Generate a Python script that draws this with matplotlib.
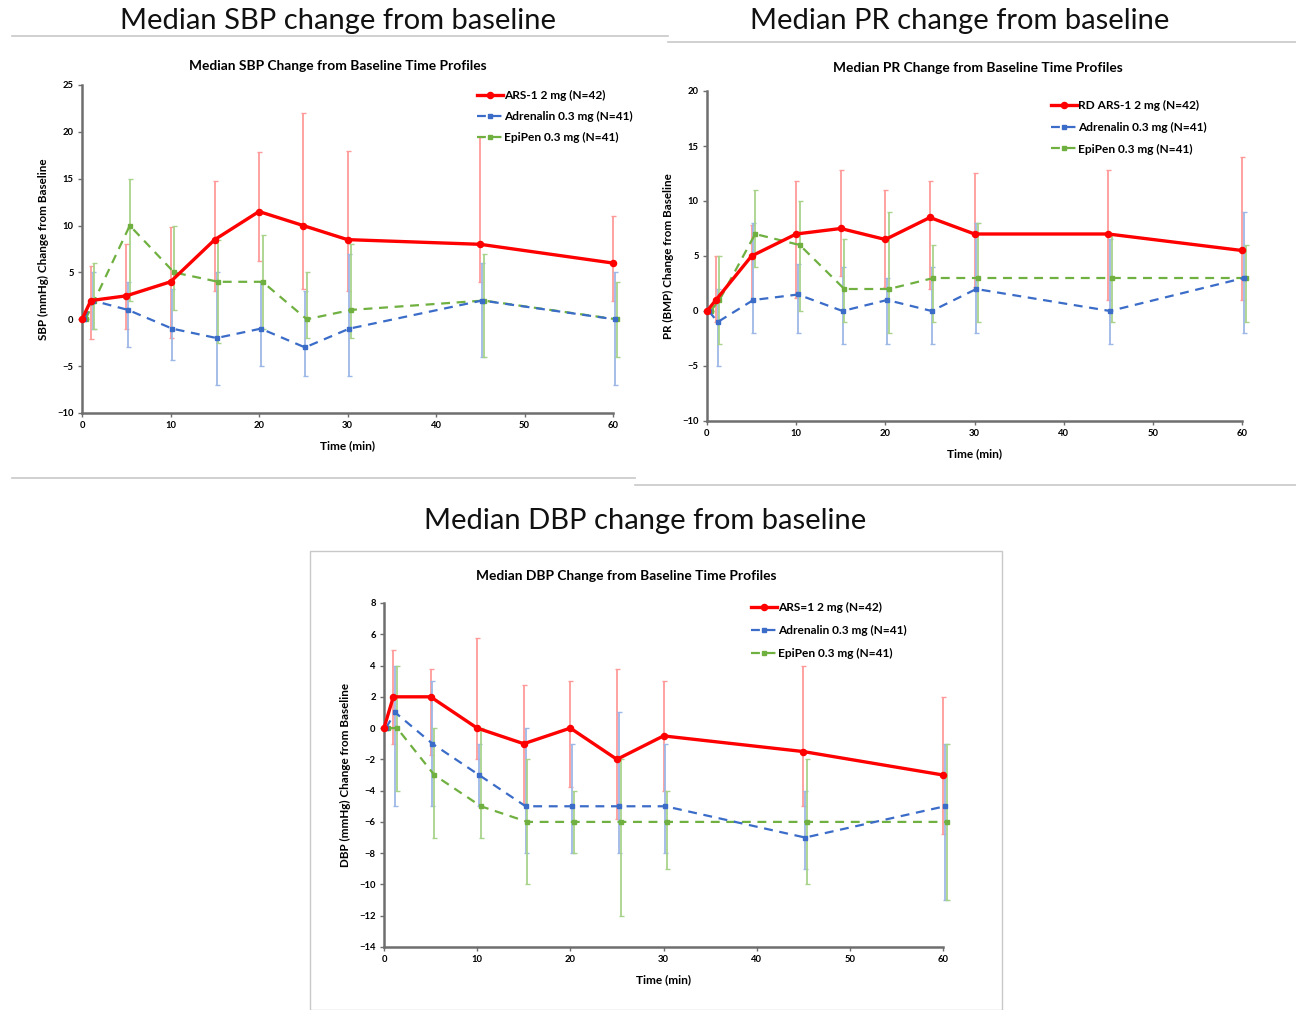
import matplotlib
matplotlib.use("Agg")
import matplotlib.pyplot as plt
from matplotlib.lines import Line2D
from matplotlib.patches import Rectangle
import numpy as np

# ---------------- data ----------------
times = [0, 1, 5, 10, 15, 20, 25, 30, 45, 60]

# SBP
sbp_ars = [0, 2, 2.5, 4, 8.5, 11.5, 10, 8.5, 8, 6]
sbp_ars_hi = [0, 5.7, 8, 9.8, 14.8, 17.8, 22, 18, 19.4, 11]
sbp_ars_lo = [0, -2.1, -1, -2, 3, 6.2, 3.2, 3, 4, 2]
sbp_adr = [0, 2, 1, -1, -2, -1, -3, -1, 2, 0]
sbp_adr_hi = [0, 5, 4, 3.2, 5, 4, 3, 7, 6, 5]
sbp_adr_lo = [0, -1, -3, -4.3, -7, -5, -6, -6, -4, -7]
sbp_epi = [0, 2, 10, 5, 4, 4, 0, 1, 2, 0]
sbp_epi_hi = [0, 6, 15, 10, 8.5, 9, 5, 8, 7, 4]
sbp_epi_lo = [0, -1, 2, 1, -2.5, -1, -2, -2, -4, -4]

# PR
pr_ars = [0, 1, 5, 7, 7.5, 6.5, 8.5, 7, 7, 5.5]
pr_ars_hi = [0, 5, 7.8, 11.8, 12.8, 11, 11.8, 12.5, 12.8, 14]
pr_ars_lo = [0, -1, 1, 1.2, 3.2, 2.2, 2, 2.2, 1, 1]
pr_adr = [0, -1, 1, 1.5, 0, 1, 0, 2, 0, 3]
pr_adr_hi = [0, 2, 8, 4.3, 4, 3, 4, 8, 6.5, 9]
pr_adr_lo = [0, -5, -2, -2, -3, -3, -3, -2, -3, -2]
pr_epi = [0, 1, 7, 6, 2, 2, 3, 3, 3, 3]
pr_epi_hi = [0, 5, 11, 10, 6.5, 9, 6, 8, 7, 6]
pr_epi_lo = [0, -3, 4, 0, -1, -2, -1, -1, -1, -1]

# DBP
dbp_ars = [0, 2, 2, 0, -1, 0, -2, -0.5, -1.5, -3]
dbp_ars_hi = [0, 5, 3.75, 5.75, 2.75, 3, 3.75, 3, 4, 2]
dbp_ars_lo = [0, -1, -1.75, -2, -4.8, -3.75, -5.8, -4, -5, -6.75]
dbp_adr = [0, 1, -1, -3, -5, -5, -5, -5, -7, -5]
dbp_adr_hi = [0, 4, 3, -1, 0, -1, 1, -1, -4, -1]
dbp_adr_lo = [0, -5, -5, -5, -8, -8, -8, -8, -9, -11]
dbp_epi = [0, 0, -3, -5, -6, -6, -6, -6, -6, -6]
dbp_epi_hi = [0, 4, 0, 0, -2, -4, -2, -4, -2, -1]
dbp_epi_lo = [0, -4, -7, -7, -10, -8, -12, -9, -10, -11]

sbp_labels = ["ARS-1 2 mg (N=42)", "Adrenalin 0.3 mg (N=41)", "EpiPen 0.3 mg (N=41)"]
pr_labels = ["RD ARS-1 2 mg (N=42)", "Adrenalin 0.3 mg (N=41)", "EpiPen 0.3 mg (N=41)"]
dbp_labels = ["ARS=1 2 mg (N=42)", "Adrenalin 0.3 mg (N=41)", "EpiPen 0.3 mg (N=41)"]

# ---------------- style ----------------
W, H = 1296, 1010
fig = plt.figure(figsize=(W / 100, H / 100), dpi=100)
fig.patch.set_facecolor("white")

FONT = "Lato"
RED, RED_E = "#FF0000", "#FF9A9A"
BLUE, BLUE_E = "#3A6CC8", "#9DB8E6"
GREEN, GREEN_E = "#6FB040", "#A8D38A"


def fx(px):
    return px / W


def fy(py):
    return 1 - py / H


def axes_px(x0, x1, ytop, ybot):
    return fig.add_axes([fx(x0), fy(ybot), fx(x1) - fx(x0), fy(ytop) - fy(ybot)])


def draw_panel(ax, series, labels, ylim, ystep, ylabel, title, title_xy, leg_xy, leg_sp):
    offsets = [0.0, 0.2, 0.4]
    styles = [
        dict(color=RED, ecolor=RED_E, ls="-", lw=2.4, marker="o", ms=4.4),
        dict(color=BLUE, ecolor=BLUE_E, ls=(0, (4, 3)), lw=1.6, marker="s", ms=2.6),
        dict(color=GREEN, ecolor=GREEN_E, ls=(0, (4, 3)), lw=1.6, marker="s", ms=2.6),
    ]
    order = [2, 1, 0]
    for i in order:
        y, hi, lo = series[i]
        st = styles[i]
        x = np.array(times, dtype=float) + offsets[i]
        y = np.array(y, dtype=float)
        yerr = np.vstack([y - np.array(lo), np.array(hi) - y])
        ax.errorbar(x, y, yerr=yerr, fmt="none", ecolor=st["ecolor"], elinewidth=1.3,
                    capsize=1.8, capthick=1.0, clip_on=False, zorder=2 + i)
    for i in order:
        y, hi, lo = series[i]
        st = styles[i]
        x = np.array(times, dtype=float) + offsets[i]
        ax.plot(x, y, color=st["color"], ls=st["ls"], lw=st["lw"], marker=st["marker"],
                ms=st["ms"], clip_on=False, zorder=6 + (3 if i == 0 else 0))
    handles = []
    for i in range(3):
        st = styles[i]
        handles.append(Line2D([], [], color=st["color"], ls=st["ls"], lw=st["lw"],
                              marker=st["marker"], ms=st["ms"]))
    ax.set_xlim(0, 60)
    ax.set_ylim(*ylim)
    ax.set_xticks(np.arange(0, 61, 10))
    ax.set_yticks(np.arange(ylim[0], ylim[1] + 0.01, ystep))
    for s in ["top", "right"]:
        ax.spines[s].set_visible(False)
    for s in ["left", "bottom"]:
        ax.spines[s].set_color("#6E6E6E")
        ax.spines[s].set_linewidth(1.8)
    ax.tick_params(axis="both", direction="out", length=3, width=1, color="#6E6E6E",
                   labelsize=6.8, pad=3)
    for lab in ax.get_xticklabels() + ax.get_yticklabels():
        lab.set_fontweight("bold")
        lab.set_fontfamily(FONT)
    ax.set_xlabel("Time (min)", fontsize=8.6, fontweight="bold", family=FONT, labelpad=7)
    ax.set_ylabel(ylabel, fontsize=8.4, fontweight="bold", family=FONT, labelpad=6)
    fig.text(fx(title_xy[0]), fy(title_xy[1]), title, ha="center", va="center",
             fontsize=9.9, fontweight="bold", family=FONT)
    ax.set_facecolor("white")
    ax.legend(handles, labels, loc="upper left",
              bbox_to_anchor=(fx(leg_xy[0]), fy(leg_xy[1])),
              bbox_transform=fig.transFigure, frameon=False,
              prop=dict(family=FONT, weight="bold", size=8.6),
              handlelength=2.2, handletextpad=0.1, labelspacing=leg_sp,
              borderpad=0, borderaxespad=0)
    return ax


# SBP panel
ax1 = axes_px(82, 613, 85, 413)
draw_panel(ax1,
           [(sbp_ars, sbp_ars_hi, sbp_ars_lo), (sbp_adr, sbp_adr_hi, sbp_adr_lo),
            (sbp_epi, sbp_epi_hi, sbp_epi_lo)],
           sbp_labels, (-10, 25), 5, "SBP (mmHg) Change from Baseline",
           "Median SBP Change from Baseline Time Profiles", (338, 66), (477, 90), 0.85)

# PR panel
ax2 = axes_px(707, 1242, 91, 421)
draw_panel(ax2,
           [(pr_ars, pr_ars_hi, pr_ars_lo), (pr_adr, pr_adr_hi, pr_adr_lo),
            (pr_epi, pr_epi_hi, pr_epi_lo)],
           pr_labels, (-10, 20), 5, "PR (BMP) Change from Baseline",
           "Median PR Change from Baseline Time Profiles", (978, 68), (1051, 100), 0.9)

# DBP panel
ax3 = axes_px(384, 943, 603, 947)
draw_panel(ax3,
           [(dbp_ars, dbp_ars_hi, dbp_ars_lo), (dbp_adr, dbp_adr_hi, dbp_adr_lo),
            (dbp_epi, dbp_epi_hi, dbp_epi_lo)],
           dbp_labels, (-14, 8), 2, "DBP (mmHg) Change from Baseline",
           "Median DBP Change from Baseline Time Profiles", (626, 576), (751, 602), 1.0)

# big slide titles
for (x, y, s) in [(338, 21, "Median SBP change from baseline"),
                  (960, 21, "Median PR change from baseline"),
                  (645, 521, "Median DBP change from baseline")]:
    fig.text(fx(x), fy(y), s, ha="center", va="center",
             fontsize=21, family=FONT, color="#111111")

# separator lines / boxes
GRAY = "#C8C8C8"
fig.add_artist(Line2D([fx(12), fx(668)], [fy(36), fy(36)], color=GRAY, lw=1.2))
fig.add_artist(Line2D([fx(668), fx(1296)], [fy(42), fy(42)], color=GRAY, lw=1.2))
fig.add_artist(Line2D([fx(12), fx(635)], [fy(478), fy(478)], color=GRAY, lw=1.2))
fig.add_artist(Line2D([fx(635), fx(1296)], [fy(485), fy(485)], color=GRAY, lw=1.2))
fig.add_artist(Rectangle((fx(310), fy(1010)), fx(1002) - fx(310), fy(551) - fy(1010),
                         transform=fig.transFigure, fill=False, edgecolor=GRAY, lw=1.0,
                         zorder=0))

fig.savefig("out.png", dpi=100, facecolor="white")
